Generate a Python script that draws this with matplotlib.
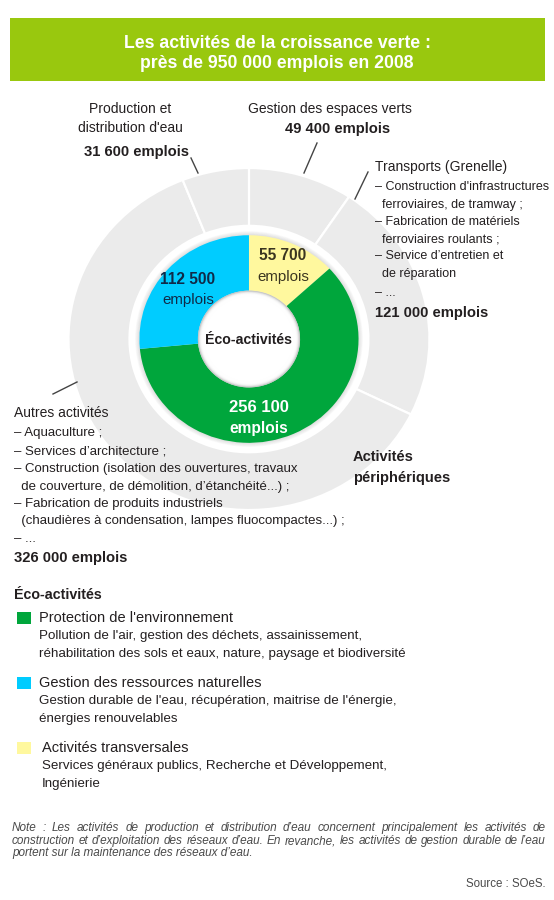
import matplotlib
matplotlib.use("Agg")
import matplotlib.pyplot as plt
from matplotlib import font_manager as fm
from matplotlib.patches import Rectangle, Circle

# ---------------- data ----------------
inner_labels = ["Activités transversales", "Protection de l'environnement",
                "Gestion des ressources naturelles"]
inner_values = [55700, 256100, 112500]
outer_labels = ["Gestion des espaces verts", "Transports (Grenelle)",
                "Autres activités", "Production et distribution d'eau"]
outer_values = [49400, 121000, 326000, 31600]

title_lines = ["Les activités de la croissance verte :", "près de 950 000 emplois en 2008"]
transport_items = ["– Construction d'infrastructures", "  ferroviaires, de tramway ;",
                   "– Fabrication de matériels", "  ferroviaires roulants ;",
                   "– Service d’entretien et", "  de réparation", "– ..."]
autres_items = ["– Aquaculture ;", "– Services d’architecture ;",
                "– Construction (isolation des ouvertures, travaux",
                "  de couverture, de démolition, d’étanchéité...) ;",
                "– Fabrication de produits industriels",
                "  (chaudières à condensation, lampes fluocompactes...) ;", "– ..."]
legend_desc = {
    "Protection de l'environnement": ["Pollution de l'air, gestion des déchets, assainissement,",
                                      "réhabilitation des sols et eaux, nature, paysage et biodiversité"],
    "Gestion des ressources naturelles": ["Gestion durable de l'eau, récupération, maitrise de l'énergie,",
                                          "énergies renouvelables"],
    "Activités transversales": ["Services généraux publics, Recherche et Développement,",
                                "Ingénierie"],
}
note_lines = ["Note : Les activités de production et distribution d’eau concernent principalement les activités de",
              "construction et d’exploitation des réseaux d’eau. En revanche, les activités de gestion durable de l’eau",
              "portent sur la maintenance des réseaux d’eau."]
source_text = "Source : SOeS."

colors_inner = {"Activités transversales": "#FFF89E",
                "Protection de l'environnement": "#00A63C",
                "Gestion des ressources naturelles": "#00CCFF"}
ring_gray = "#EBEBEB"
txt = "#231F20"

def fmt(v):
    return f"{v:,}".replace(",", " ")

names = {f.name for f in fm.fontManager.ttflist}
FONT = "Liberation Sans Narrow" if "Liberation Sans Narrow" in names else "Liberation Sans"
plt.rcParams["font.family"] = [FONT, "DejaVu Sans"]

fig = plt.figure(figsize=(5.54, 9.0), dpi=100)

# ---------------- donut ----------------
ax = fig.add_axes([0.1236, 0.4333, 0.6516, 0.38])
R_out, R_gin, R_cin, R_hole = 1.0, 0.662, 0.607, 0.283
ax.pie(outer_values, radius=R_out, startangle=90, counterclock=False,
       colors=[ring_gray] * len(outer_values),
       wedgeprops=dict(width=R_out - R_gin, edgecolor="white", linewidth=1.6))
# soft shadow around the coloured ring
for k in range(6):
    ax.add_patch(Circle((0, 0), R_cin + 0.004 * (6 - k), color="#9a9a9a",
                        alpha=0.05, lw=0, zorder=1.5))
ax.pie(inner_values, radius=R_cin, startangle=90, counterclock=False,
       colors=[colors_inner[l] for l in inner_labels],
       wedgeprops=dict(width=R_cin - R_hole, edgecolor="none", zorder=2))
# hole with inner shading
ax.add_patch(Circle((0, 0), R_hole, color="#c4c4c4", lw=0, zorder=3))
for k in range(8):
    ax.add_patch(Circle((0, 0), R_hole - 0.004 * (k + 1), color="white",
                        alpha=0.35 + 0.08 * k, lw=0, zorder=3))
ax.add_patch(Circle((0, 0), R_hole - 0.036, color="white", lw=0, zorder=3))
ax.set_aspect("auto")
ax.set_xlim(-1, 1)
ax.set_ylim(-1, 1)
ax.axis("off")

# ---------------- overlay in pixel coordinates ----------------
t = fig.add_axes([0, 0, 1, 1])
t.set_xlim(0, 554)
t.set_ylim(900, 0)
t.axis("off")
t.patch.set_alpha(0)

# title banner
t.add_patch(Rectangle((9.5, 18), 535, 63, facecolor="#99C80E", edgecolor="none"))
t.text(277, 43, title_lines[0], ha="center", va="center", color="white",
       fontsize=12.7, fontweight="bold")
t.text(277, 63, title_lines[1], ha="center", va="center", color="white",
       fontsize=12.7, fontweight="bold")

# inner labels
inner_pos = {"Activités transversales": (283, 256),
             "Protection de l'environnement": (259, 407),
             "Gestion des ressources naturelles": (188, 279)}
inner_col = {"Activités transversales": "#3a3520",
             "Protection de l'environnement": "white",
             "Gestion des ressources naturelles": "#102a48"}
for lab, val in zip(inner_labels, inner_values):
    x, y = inner_pos[lab]
    c = inner_col[lab]
    big = c == "white"
    t.text(x, y, fmt(val), ha="center", va="center", fontsize=12 if big else 11.2,
           fontweight="bold", color=c)
    t.text(x, y + 21, "emplois", ha="center", va="center", fontsize=11.2 if big else 10.8,
           fontweight="bold" if big else "normal", color=c)
t.text(248, 340, "Éco-activités", ha="center", va="center", fontsize=10.2,
       fontweight="bold", color=txt)

# outer labels
vals = dict(zip(outer_labels, outer_values))
lead = dict(color="#444444", lw=1)
t.text(130, 109, "Production et", ha="center", va="center", fontsize=10, color=txt)
t.text(130, 128, "distribution d'eau", ha="center", va="center", fontsize=10, color=txt)
t.text(136, 152, f"{fmt(vals[outer_labels[3]])} emplois", ha="center", va="center",
       fontsize=10.6, fontweight="bold", color=txt)
t.plot([191, 198], [158, 173], **lead)

t.text(330, 109, outer_labels[0], ha="center", va="center", fontsize=10, color=txt)
t.text(338, 129, f"{fmt(vals[outer_labels[0]])} emplois", ha="center", va="center",
       fontsize=10.6, fontweight="bold", color=txt)
t.plot([317, 304], [143, 173], **lead)

t.text(375, 167, outer_labels[1], ha="left", va="center", fontsize=10, color=txt)
ty = [187, 205, 222, 239, 256, 274, 293]
for s, y in zip(transport_items, ty):
    t.text(375, y, s, ha="left", va="center", fontsize=9.0, color=txt)
t.text(375, 313, f"{fmt(vals[outer_labels[1]])} emplois", ha="left", va="center",
       fontsize=10.6, fontweight="bold", color=txt)
t.plot([368, 355], [172, 199], **lead)

t.text(14, 413, outer_labels[2], ha="left", va="center", fontsize=10, color=txt)
ay = [433, 451, 469, 487, 504, 521, 539]
for s, y in zip(autres_items, ay):
    t.text(14, y, s, ha="left", va="center", fontsize=9.5, color=txt)
t.text(14, 558, f"{fmt(vals[outer_labels[2]])} emplois", ha="left", va="center",
       fontsize=10.6, fontweight="bold", color=txt)
t.plot([53, 77], [394, 382], **lead)

t.text(353, 457, "Activités", ha="left", va="center", fontsize=10.5,
       fontweight="bold", color=txt)
t.text(353, 478, "périphériques", ha="left", va="center", fontsize=10.5,
       fontweight="bold", color=txt)

# legend
t.text(14, 595, "Éco-activités", ha="left", va="center", fontsize=10.3,
       fontweight="bold", color=txt)
leg_order = ["Protection de l'environnement", "Gestion des ressources naturelles",
             "Activités transversales"]
leg_y = [618, 683, 748]
leg_x = [39, 39, 42]
for lab, y, x in zip(leg_order, leg_y, leg_x):
    t.add_patch(Rectangle((17, y - 6), 14, 12, facecolor=colors_inner[lab],
                          edgecolor="none"))
    t.text(x, y, lab, ha="left", va="center", fontsize=10.5, color=txt)
    for i, d in enumerate(legend_desc[lab]):
        t.text(x, y + 18 + 18 * i, d, ha="left", va="center", fontsize=9.6, color=txt)

# justified note
renderer = fig.canvas.get_renderer()
def justify(line, x0, x1, y, **kw):
    words = line.split(" ")
    arts = [t.text(0, y, w, ha="left", va="center", **kw) for w in words]
    widths = [a.get_window_extent(renderer).width for a in arts]
    gap = (x1 - x0 - sum(widths)) / (len(words) - 1)
    x = x0
    for a, w in zip(arts, widths):
        a.set_x(x)
        x += w + gap

nkw = dict(fontsize=8.5, style="italic", color="#4a4a4a")
justify(note_lines[0], 12, 546, 828, **nkw)
justify(note_lines[1], 12, 546, 841, **nkw)
t.text(12, 853, note_lines[2], ha="left", va="center", **nkw)
t.text(546, 884, source_text, ha="right", va="center", fontsize=8.3, color="#4a4a4a")

fig.savefig("out.png", dpi=100)
